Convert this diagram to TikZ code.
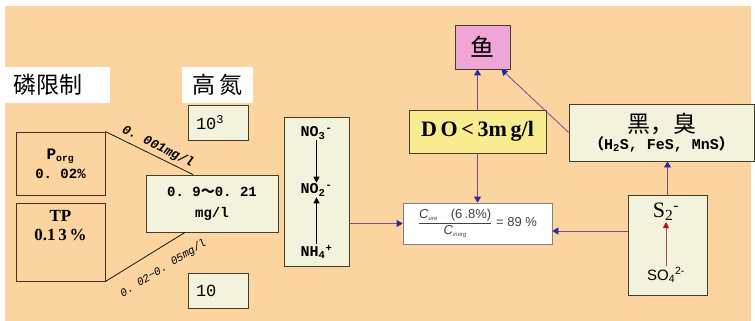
\documentclass[tikz,border=0pt]{standalone}
\usepackage{fontspec}
\usepackage{amsmath}
\setmainfont{Liberation Serif}
\setsansfont{Liberation Sans}
\setmonofont{Liberation Mono}
\newfontfamily\cjk{Noto Sans CJK SC}
\usetikzlibrary{arrows.meta,calc,positioning}
\definecolor{bgorange}{HTML}{FCD4A0}
\definecolor{cream}{HTML}{F3F2DC}
\definecolor{doyellow}{HTML}{F9EC8E}
\definecolor{fishpink}{HTML}{EFA6D6}
\definecolor{boxline}{HTML}{404028}
\definecolor{pline}{HTML}{4A2E1E}
\definecolor{linkpurple}{HTML}{7A4A8A}
\definecolor{arrowblue}{HTML}{2828AA}
\definecolor{sred}{HTML}{A05050}
\definecolor{tipred}{HTML}{C01010}

\begin{document}
\begin{tikzpicture}[
  x=1pt, y=-1pt,
  >=Stealth,
  tag/.style={fill=white, inner sep=0pt, minimum height=36pt, font=\cjk\fontsize{23}{25}\selectfont},
  card/.style={draw=boxline, line width=0.8pt, fill=cream, inner sep=0pt, align=center},
  pbox/.style={draw=pline, line width=0.9pt, fill=bgorange, inner sep=0pt, align=center},
  mono/.style={font=\ttfamily\fontsize{17}{19}\selectfont},
  chem/.style={font=\ttfamily\bfseries\fontsize{15}{17}\selectfont, inner sep=1pt},
  rate/.style={inner sep=1pt},
  plain/.style={line width=0.7pt, black},
  link/.style={draw=linkpurple, line width=0.8pt, -{Triangle[length=6pt,width=7pt,color=arrowblue]}},
  down/.style={line width=0.8pt, black, -{Triangle[length=6pt,width=6pt]}},
  redup/.style={draw=sred, line width=0.8pt, -{Triangle[length=6pt,width=6pt,color=tipred]}}
]

\useasboundingbox (0,0) rectangle (755,321);
\fill[bgorange] (5,6) rectangle (751,321);

\node[tag, anchor=west, text width=89pt, inner xsep=8pt, align=left] (phos) at (5,85) {磷限制};
\node[tag, minimum width=71pt] (highn) at (217.5,85) {高\,氮};

\node[card, mono, minimum width=60pt, minimum height=35pt, text width=44pt, align=left] (hi) at (218,122.5) {10\textsuperscript{3}};
\node[card, mono, minimum width=60pt, minimum height=35pt, text width=44pt, align=left] (lo) at (218,290.5) {10};

\node[pbox, minimum width=89pt, minimum height=63pt, font=\ttfamily\bfseries\fontsize{14}{19}\selectfont] (porg) at (60.5,163.5) {{\fontsize{16}{19}\selectfont P}\textsubscript{org}\\0. 02\%};
\node[pbox, minimum width=89pt, minimum height=78pt] (tp) at (60.5,242) {};
\node[font=\bfseries\fontsize{17}{19}\selectfont, align=center] (tptxt) at (60.5,226) {TP\\0.1\,3\,\%};

\node[card, minimum width=132pt, minimum height=57pt, font=\ttfamily\bfseries\fontsize{14}{21}\selectfont] (mid) at (212,203.5) {0. 9{\cjk ～}0. 21\\mg/l};

\draw[plain] (porg.north east) -- node[pos=0.55, above=2pt, sloped, rate, font=\ttfamily\bfseries\itshape\fontsize{13}{15}\selectfont] {0. 001mg/l} ([xshift=-19pt]mid.north);
\draw[plain] (tp.south east) -- node[pos=0.6, below=13pt, sloped, rate, font=\ttfamily\itshape\fontsize{11}{13}\selectfont] {0. 02\textasciitilde0. 05mg/l} ([xshift=-27pt]mid.south);

\node[card, minimum width=65pt, minimum height=149pt] (nbox) at (316.5,191.5) {};
\node[chem] (no3) at (316.5,133) {NO\textsubscript{3}\textsuperscript{-}};
\node[chem] (no2) at (316.5,190) {NO\textsubscript{2}\textsuperscript{-}};
\node[chem] (nh4) at (316.5,252) {NH\textsubscript{4}\textsuperscript{+}};
\draw[down] (no3) -- (no2);
\draw[down] (nh4) -- (no2);

\node[draw=gray, line width=0.8pt, fill=white, inner sep=0pt, minimum width=149pt, minimum height=41pt, text=black!75, font=\sffamily\fontsize{13}{15}\selectfont] (ratio) at (477.5,223.5) {$\dfrac{\text{\textit{C}}_{\text{\fontsize{6}{7}\selectfont\itshape ure}}\quad\text{(6\,.8\%)}}{\text{\textit{C}}_{\text{\fontsize{6}{7}\selectfont\itshape inorg}}}$ = 89 \%};

\node[draw=boxline, line width=0.8pt, fill=doyellow, inner sep=0pt, minimum width=137pt, minimum height=43pt, font=\bfseries\fontsize{22}{24}\selectfont] (do) at (477.5,131.5) {D\,O\,<\,3m\,g/l};
\node[draw=boxline, line width=0.8pt, fill=fishpink, inner sep=0pt, minimum width=55pt, minimum height=44pt, font=\cjk\fontsize{24}{26}\selectfont] (fish) at (482.5,47) {鱼};

\node[card, minimum width=185pt, minimum height=57pt] (blk) at (661.5,132.5) {{\cjk\fontsize{23}{25}\selectfont 黑，臭}\\[0pt]{\ttfamily\bfseries\fontsize{15}{17}\selectfont{\cjk （}H\textsubscript{2}S, FeS, MnS{\cjk ）}}};

\node[card, minimum width=79pt, minimum height=100pt] (sbox) at (667.5,245) {};
\node[font=\fontsize{22}{24}\selectfont, inner sep=1pt] (s2) at (666,212) {S\textsubscript{2}\textsuperscript{-}};
\node[font=\sffamily\fontsize{15}{17}\selectfont, inner sep=1pt] (so4) at (666,275) {SO\textsubscript{4}\textsuperscript{2-}};
\draw[redup] (so4) -- (s2);

\draw[link] (ratio.west -| nbox.east) -- (ratio.west);
\draw[link] (do.south) -- (ratio.north);
\draw[link] (do.north) -- (do.north |- fish.south);
\draw[link] (blk.west) -- ([xshift=-9pt]fish.south east);
\draw[link] (sbox.north) -- (sbox.north |- blk.south);
\draw[link] ([yshift=14pt]sbox.west) -- ([yshift=14pt]sbox.west -| ratio.east);

\end{tikzpicture}
\end{document}
